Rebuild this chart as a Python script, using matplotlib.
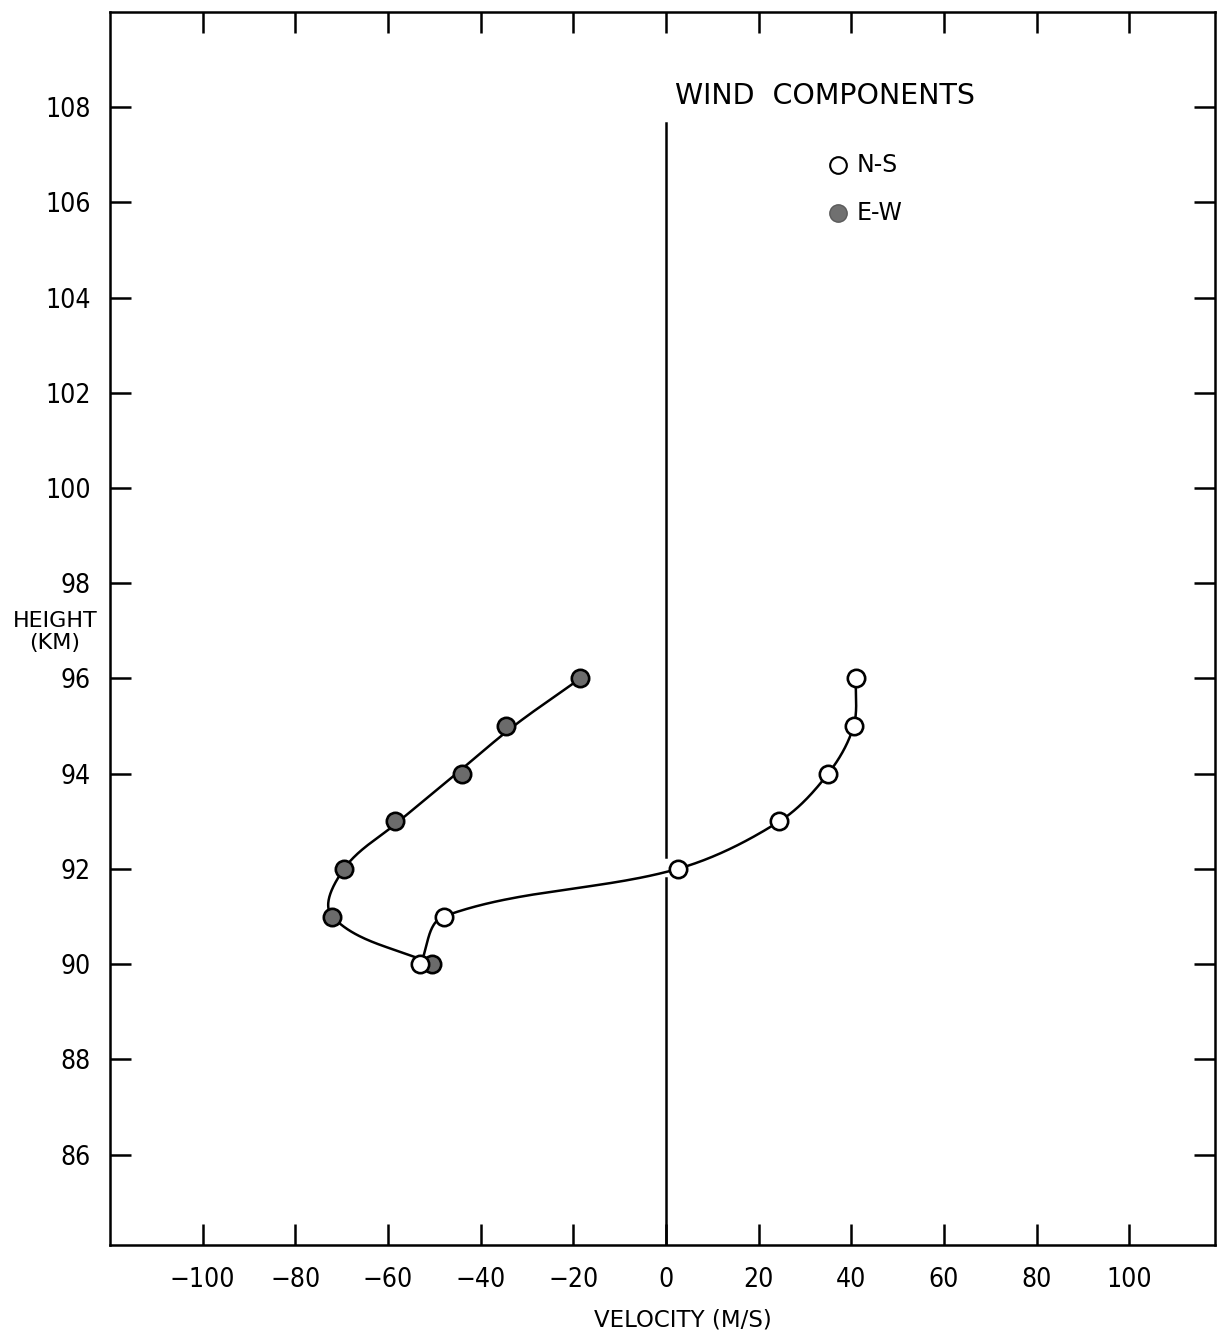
import numpy as np
import matplotlib
matplotlib.use('Agg')
import matplotlib.pyplot as plt

# wind component profiles (velocity m/s vs height km)
heights = [96, 95, 94, 93, 92, 91, 90]
ns_velocity = [41.0, 40.5, 35.0, 24.5, 2.5, -48.0, -53.0]
ew_velocity = [-18.5, -34.5, -44.0, -58.5, -69.5, -72.0, -50.5]

x_ticks = [-100, -80, -60, -40, -20, 0, 20, 40, 60, 80, 100]
x_tick_labels = ['\u2212100', '\u221280', '\u221260', '\u221240', '\u221220', '0', '20', '40', '60', '80', '100']
y_ticks = [86, 88, 90, 92, 94, 96, 98, 100, 102, 104, 106, 108]

XSCALE = 10.3  # velocity units per km that look equal on the page


def hermite_curve(xs, ys, n=50):
    """Smooth curve through the points: unit tangents from neighbours,
    scaled by each segment's chord length (no overshoot, no S bends)."""
    P = np.column_stack([np.asarray(xs, float) / XSCALE, ys])
    k = len(P)
    d = np.zeros_like(P)
    for i in range(k):
        if i == 0:
            v = P[1] - P[0]
        elif i == k - 1:
            v = P[-1] - P[-2]
        else:
            v = P[i + 1] - P[i - 1]
        d[i] = v / np.linalg.norm(v)
    t = np.linspace(0, 1, n)[:, None]
    h00 = 2 * t**3 - 3 * t**2 + 1
    h10 = t**3 - 2 * t**2 + t
    h01 = -2 * t**3 + 3 * t**2
    h11 = t**3 - t**2
    out = []
    for i in range(k - 1):
        L = np.linalg.norm(P[i + 1] - P[i])
        out.append(h00 * P[i] + h10 * d[i] * L + h01 * P[i + 1] + h11 * d[i + 1] * L)
    c = np.vstack(out)
    return c[:, 0] * XSCALE, c[:, 1]


def smooth_upper(vals, idx):
    # hand-drawn line in the original runs straight past the upper points
    v = list(vals)
    for i in idx:
        v[i] = 0.5 * vals[i] + 0.25 * (vals[i - 1] + vals[i + 1])
    return v


fig = plt.figure(figsize=(12.28, 13.39), dpi=100)
ax = fig.add_axes([110 / 1228, 1 - 1245 / 1339, 1105 / 1228, 1233 / 1339])

curves = [(smooth_upper(ew_velocity, [1, 2, 3]), ew_velocity, '#6b6b6b'),
          (ns_velocity, ns_velocity, 'white')]
for line_vel, vel, face in curves:
    sx, sy = hermite_curve(line_vel, heights)
    ax.plot(sx, sy, color='black', lw=1.8, zorder=2)
    ax.plot(vel, heights, 'o', ms=12.5, mfc=face, mec='black', mew=1.9, zorder=3)

# zero line
ax.plot([0, 0], [107.66, 92.25], color='black', lw=1.8, zorder=1)
ax.plot([0, 0], [91.8, 84], color='black', lw=1.8, zorder=1)

tick_font = dict(family='DejaVu Sans', stretch='condensed', size=19)
ax.set_xlim(-120, 118.5)
ax.set_ylim(84.1, 110)
ax.set_xticks(x_ticks)
ax.set_xticklabels(x_tick_labels, **tick_font)
ax.set_yticks(y_ticks)
ax.set_yticklabels([str(v) for v in y_ticks], **tick_font)
ax.tick_params(direction='in', length=15, width=1.8, top=True, right=True)
ax.tick_params(axis='x', pad=16)
ax.tick_params(axis='y', pad=14)
for s in ax.spines.values():
    s.set_linewidth(1.8)

ax.text(2.0, 108.23, 'WIND  COMPONENTS', fontsize=20.5, va='center', ha='left')
ax.plot([37.1], [106.78], 'o', ms=12, mfc='white', mec='black', mew=1.5)
ax.text(41.2, 106.78, 'N-S', fontsize=17, va='center', ha='left')
ax.plot([37.1], [105.78], 'o', ms=12.5, mfc='#707070', mec='#5a5a5a', mew=1)
ax.text(41.2, 105.78, 'E-W', fontsize=17, va='center', ha='left')

fig.text(55 / 1228, 1 - 632 / 1339, 'HEIGHT\n(KM)', fontsize=16, ha='center',
         va='center', linespacing=1.1)
fig.text(683 / 1228, 1 - 1320 / 1339, 'VELOCITY (M/S)', fontsize=16.5,
         ha='center', va='center')

plt.savefig('out.png', dpi=100)
plt.close('all')
